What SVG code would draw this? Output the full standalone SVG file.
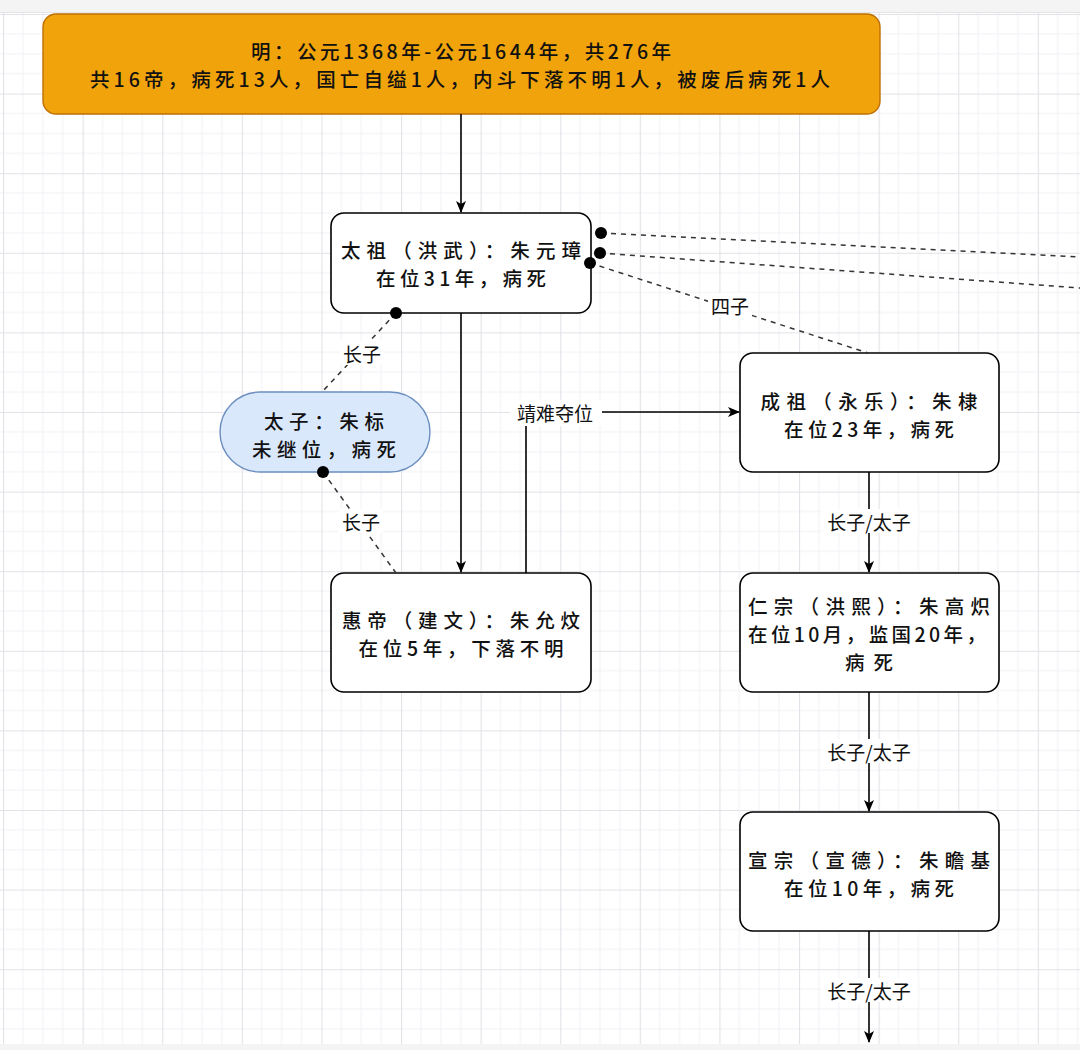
<svg xmlns="http://www.w3.org/2000/svg" width="1080" height="1050" viewBox="0 0 1080 1050">
  <defs>
    <pattern id="grid" patternUnits="userSpaceOnUse" x="3" y="14" width="79.6" height="79.6">
      <path d="M19.9,0V79.6M39.8,0V79.6M59.7,0V79.6M0,19.9H79.6M0,39.8H79.6M0,59.7H79.6" stroke="#f2f2f6" stroke-width="1" fill="none"/>
      <path d="M0.5,0V79.6M0,0.5H79.6" stroke="#e2e2e8" stroke-width="1.2" fill="none"/>
    </pattern>
    <marker id="arrow" markerUnits="userSpaceOnUse" markerWidth="12" markerHeight="10" refX="11" refY="5" orient="auto">
      <path d="M0,0 L12,5 L0,10 L3,5 z" fill="#000"/>
    </marker>
    <style>
      text { font-family: "Noto Sans CJK SC", "Noto Sans", sans-serif; fill: #111; text-anchor: middle; dominant-baseline: central; }
      .node { fill: #fff; stroke: #000; stroke-width: 1.6; }
      .t { font-size: 19.5px; font-weight: 500; }
      .lbl { font-size: 19px; }
      .lblbg { fill: #fff; }
      .edge { fill: none; stroke: #000; stroke-width: 1.6; }
      .dash { fill: none; stroke: #333; stroke-width: 1.5; stroke-dasharray: 5 5; }
      .dot { fill: #000; }
    </style>
  </defs>

  <rect x="0" y="0" width="1080" height="1050" fill="#fff"/>
  <rect x="0" y="12" width="1080" height="1032" fill="url(#grid)"/>
  <rect x="0" y="0" width="1080" height="12" fill="#f4f4f4"/>
  <line x1="0" y1="12.5" x2="1080" y2="12.5" stroke="#e4e4e4"/>
  <rect x="0" y="1044" width="1080" height="6" fill="#f4f4f4"/>

  <g id="ming">
    <rect x="43" y="14" width="837" height="100" rx="13" fill="#f0a30a" stroke="#bd7000" stroke-width="1.4"/>
    <text class="t" x="461" y="50" textLength="420" lengthAdjust="spacing">明：公元1368年-公元1644年，共276年</text>
    <text class="t" x="460" y="78" textLength="740" lengthAdjust="spacing">共16帝，病死13人，国亡自缢1人，内斗下落不明1人，被废后病死1人</text>
  </g>

  <g id="taizu">
    <rect class="node" x="331" y="213" width="260" height="100" rx="13"/>
    <text class="t" x="461" y="249.5" textLength="240" lengthAdjust="spacing">太祖（洪武）：朱元璋</text>
    <text class="t" x="461" y="277.5" textLength="170" lengthAdjust="spacing">在位31年，病死</text>
  </g>

  <g id="taizi">
    <rect x="220" y="392" width="210" height="80" rx="40" fill="#dae8fc" stroke="#6c8ebf" stroke-width="1.4"/>
    <text class="t" x="324" y="420" textLength="120" lengthAdjust="spacing">太子：朱标</text>
    <text class="t" x="324" y="448" textLength="144" lengthAdjust="spacing">未继位，病死</text>
  </g>

  <g id="huidi">
    <rect class="node" x="331" y="573" width="260" height="119" rx="13"/>
    <text class="t" x="461" y="619.5" textLength="238" lengthAdjust="spacing">惠帝（建文）：朱允炆</text>
    <text class="t" x="461" y="647.5" textLength="205" lengthAdjust="spacing">在位5年，下落不明</text>
  </g>

  <g id="chengzu">
    <rect class="node" x="740" y="353" width="259" height="119" rx="13"/>
    <text class="t" x="869" y="400" textLength="217" lengthAdjust="spacing">成祖（永乐）：朱棣</text>
    <text class="t" x="869" y="428" textLength="170" lengthAdjust="spacing">在位23年，病死</text>
  </g>

  <g id="renzong">
    <rect class="node" x="740" y="573" width="259" height="119" rx="13"/>
    <text class="t" x="869" y="605" textLength="242" lengthAdjust="spacing">仁宗（洪熙）：朱高炽</text>
    <text class="t" x="867" y="633" textLength="238" lengthAdjust="spacing">在位10月，监国20年，</text>
    <text class="t" x="869" y="661" textLength="48" lengthAdjust="spacing">病死</text>
  </g>

  <g id="xuanzong">
    <rect class="node" x="740" y="812" width="259" height="119" rx="13"/>
    <text class="t" x="869" y="859" textLength="242" lengthAdjust="spacing">宣宗（宣德）：朱瞻基</text>
    <text class="t" x="869" y="887" textLength="170" lengthAdjust="spacing">在位10年，病死</text>
  </g>

  <g id="connectors">
    <line class="edge" x1="461" y1="114" x2="461" y2="212" marker-end="url(#arrow)"/>
    <line class="edge" x1="461" y1="313" x2="461" y2="572" marker-end="url(#arrow)"/>
    <path class="edge" d="M526,573 L526,412 L739,412" stroke-width="1.4" marker-end="url(#arrow)"/>
    <rect class="lblbg" x="510" y="400" width="92" height="26"/>
    <text class="lbl" x="555" y="412">靖难夺位</text>

    <line class="dash" x1="396" y1="313" x2="322" y2="392"/>
    <circle class="dot" cx="396" cy="313" r="6"/>
    <rect class="lblbg" x="340" y="341" width="44" height="24"/>
    <text class="lbl" x="362" y="353">长子</text>

    <line class="dash" x1="323" y1="472" x2="396" y2="573"/>
    <circle class="dot" cx="323" cy="472" r="6"/>
    <rect class="lblbg" x="339" y="509" width="44" height="24"/>
    <text class="lbl" x="361" y="521">长子</text>

    <line class="dash" x1="590" y1="263" x2="868" y2="353"/>
    <circle class="dot" cx="590" cy="263" r="6"/>
    <rect class="lblbg" x="708" y="293" width="44" height="24"/>
    <text class="lbl" x="730" y="305">四子</text>

    <line class="dash" x1="601" y1="233" x2="1080" y2="257"/>
    <circle class="dot" cx="601" cy="233" r="6"/>
    <line class="dash" x1="600" y1="253" x2="1080" y2="288"/>
    <circle class="dot" cx="600" cy="253" r="6"/>

    <line class="edge" x1="869" y1="472" x2="869" y2="572" marker-end="url(#arrow)"/>
    <rect class="lblbg" x="822" y="509" width="96" height="24"/>
    <text class="lbl" x="869" y="521">长子/太子</text>

    <line class="edge" x1="869" y1="692" x2="869" y2="811" marker-end="url(#arrow)"/>
    <rect class="lblbg" x="822" y="739" width="96" height="24"/>
    <text class="lbl" x="869" y="751">长子/太子</text>

    <line class="edge" x1="869" y1="931" x2="869" y2="1042" marker-end="url(#arrow)"/>
    <rect class="lblbg" x="822" y="978" width="96" height="24"/>
    <text class="lbl" x="869" y="990">长子/太子</text>
  </g>
</svg>
